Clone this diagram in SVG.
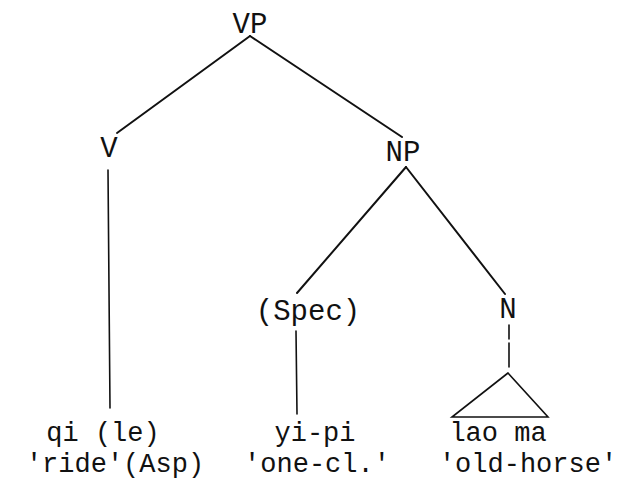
<svg xmlns="http://www.w3.org/2000/svg" width="626" height="481" viewBox="0 0 626 481">
<style>
text{font-family:"Liberation Mono","DejaVu Sans Mono",monospace;font-size:29px;fill:#111;text-anchor:middle}
.w{font-size:27px}
.e{stroke:#111;stroke-width:2;fill:none;stroke-linecap:round}
.t{stroke:#111;stroke-width:1.6;fill:none;stroke-linecap:round}
</style>
<rect width="626" height="481" fill="#fff"/>
<g id="connectors">
<line class="e" x1="250" y1="36" x2="117" y2="133"/>
<line class="e" x1="250" y1="36" x2="402" y2="137"/>
<line class="t" x1="108" y1="170" x2="110" y2="408"/>
<line class="e" x1="406" y1="167" x2="297" y2="293"/>
<line class="e" x1="406" y1="167" x2="505" y2="294"/>
<line class="t" x1="296" y1="331" x2="297" y2="414"/>
<line class="t" x1="509" y1="325" x2="509" y2="367" stroke-dasharray="14 4 30"/>
</g>
<g id="VP"><text x="250" y="33">VP</text></g>
<g id="V"><text x="109" y="157">V</text></g>
<g id="NP"><text x="403" y="161">NP</text></g>
<g id="Spec"><text x="308" y="320">(Spec)</text></g>
<g id="N"><text x="508" y="318">N</text></g>
<g id="triangle"><polygon class="t" points="508,373 452,417 548,417" stroke-linejoin="miter"/></g>
<g id="qi"><text class="w" x="103" y="441">qi (le)</text><text class="w" x="115" y="472">'ride'(Asp)</text></g>
<g id="yipi"><text class="w" x="315" y="441">yi-pi</text><text class="w" x="317" y="472">'one-cl.'</text></g>
<g id="laoma"><text class="w" x="498" y="441">lao ma</text><text class="w" x="528" y="472">'old-horse'</text></g>
</svg>
